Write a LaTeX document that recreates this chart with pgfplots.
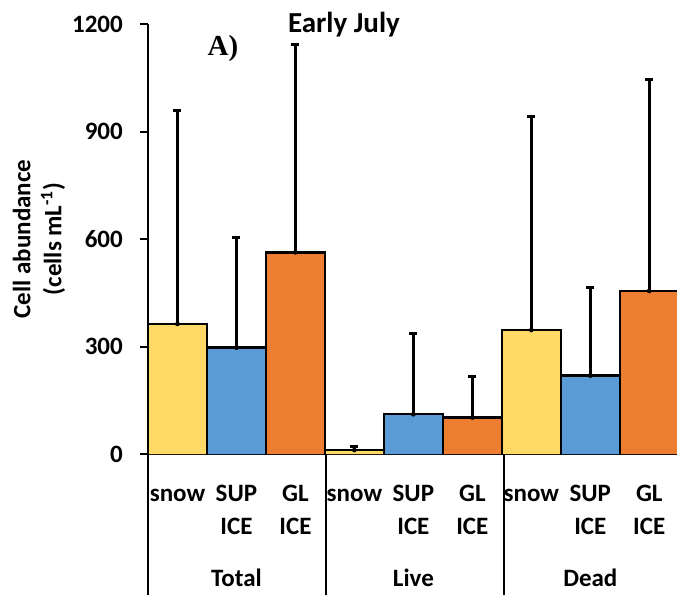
\documentclass[border=0pt]{standalone}
\usepackage{pgfplots}
\usepackage{pgfplotstable}
\pgfplotsset{compat=1.18}
\usepackage{fontspec}
\setmainfont{Carlito}
\newfontfamily\timesfont{Liberation Serif}
\definecolor{cyellow}{HTML}{FFD966}
\definecolor{cblue}{HTML}{5B9BD5}
\definecolor{corange}{HTML}{ED7D31}
\newcommand{\lblfont}{\bfseries\fontsize{25}{33}\selectfont}
\pgfplotstableread{
x y e
0 363 595
3 11 9
6 346 595
}\snow
\pgfplotstableread{
x y e
1 297 307
4 111 224
7 219 246
}\sup
\pgfplotstableread{
x y e
2 563 580
5 102 114
8 455 589
}\gl
\pgfplotsset{
  mybar/.style={ybar, fill=#1, draw=none, bar width=1, bar shift=0pt},
  myside/.style={ycomb, mark=none, draw=black, line width=2.5pt, line cap=rect, forget plot},
  mytop/.style={only marks, mark=none, forget plot,
    error bars/.cd, x dir=both, x fixed=0.5, error mark=none,
    error bar style={line width=2.5pt, black, solid, line cap=rect}},
  myerr/.style={only marks, mark=none, forget plot,
    error bars/.cd, y dir=plus, y explicit,
    error bar style={line width=2.5pt, black, solid},
    error mark options={rotate=90, line width=3pt, mark size=4pt, black}},
}
\begin{document}
\begin{tikzpicture}
\begin{axis}[
  at={(0pt,0pt)}, anchor=south west,
  scale only axis, width=529pt, height=430pt,
  xmin=-0.5, xmax=8.47, ymin=0, ymax=1200,
  axis x line*=bottom, axis y line*=left,
  axis line style={line width=2pt},
  ytick={0,300,600,900,1200},
  tick align=outside, major tick length=8pt,
  ytick style={line width=2pt, black},
  xtick={0,...,8},
  xticklabels={{\strut snow},{\strut SUP\\\strut ICE},{\strut GL\\\strut ICE},{\strut snow},{\strut SUP\\\strut ICE},{\strut GL\\\strut ICE},{\strut snow},{\strut SUP\\\strut ICE},{\strut GL\\\strut ICE}},
  xtick style={draw=none},
  xticklabel style={align=center, font=\lblfont, anchor=north, inner sep=0pt, yshift=-16pt},
  yticklabel style={font=\bfseries\fontsize{25}{30}\selectfont, anchor=east, inner sep=0pt, xshift=-17pt},
  /pgf/number format/assume math mode=true,
  /pgf/number format/1000 sep={},
]
\addplot[mybar=cyellow] table[x=x, y=y] {\snow};
\addplot[mybar=cblue] table[x=x, y=y] {\sup};
\addplot[mybar=corange] table[x=x, y=y] {\gl};
\addplot[myside] table[x expr=\thisrow{x}-0.5, y=y] {\snow};
\addplot[myside] table[x expr=\thisrow{x}+0.5, y=y] {\snow};
\addplot[myside] table[x expr=\thisrow{x}-0.5, y=y] {\sup};
\addplot[myside] table[x expr=\thisrow{x}+0.5, y=y] {\sup};
\addplot[myside] table[x expr=\thisrow{x}-0.5, y=y] {\gl};
\addplot[myside] table[x expr=\thisrow{x}+0.5, y=y] {\gl};
\addplot[mytop] table[x=x, y=y] {\snow};
\addplot[mytop] table[x=x, y=y] {\sup};
\addplot[mytop] table[x=x, y=y] {\gl};
\addplot[myerr] table[x=x, y=y, y error=e] {\snow};
\addplot[myerr] table[x=x, y=y, y error=e] {\sup};
\addplot[myerr] table[x=x, y=y, y error=e] {\gl};
\coordinate (s0) at (axis cs:-0.5,0);
\coordinate (s1) at (axis cs:2.52,0);
\coordinate (s2) at (axis cs:5.53,0);
\coordinate (g1) at (axis cs:1,0);
\coordinate (g2) at (axis cs:4,0);
\coordinate (g3) at (axis cs:7,0);
\end{axis}
\draw[line width=2pt] (s0) -- ++(0,-141pt);
\draw[line width=2pt] (s1) -- ++(0,-141pt);
\draw[line width=2pt] (s2) -- ++(0,-141pt);
\node[anchor=base, font=\lblfont] at ([yshift=-132pt]g1) {Total};
\node[anchor=base, font=\lblfont] at ([yshift=-132pt]g2) {Live};
\node[anchor=base, font=\lblfont] at ([yshift=-132pt]g3) {Dead};
\node[rotate=90, align=center, font=\bfseries\fontsize{25}{31}\selectfont] at (-109pt,215pt) {Cell abundance\\(cells mL\textsuperscript{-1})};
\node[anchor=base, font=\bfseries\fontsize{29}{32}\selectfont] at (196pt,421pt) {Early July};
\node[anchor=base, font=\timesfont\bfseries\fontsize{29}{32}\selectfont] at (75pt,398pt) {A)};
\pgfresetboundingbox
\useasboundingbox (-148pt,-141pt) rectangle (529pt,454pt);
\end{tikzpicture}
\end{document}
